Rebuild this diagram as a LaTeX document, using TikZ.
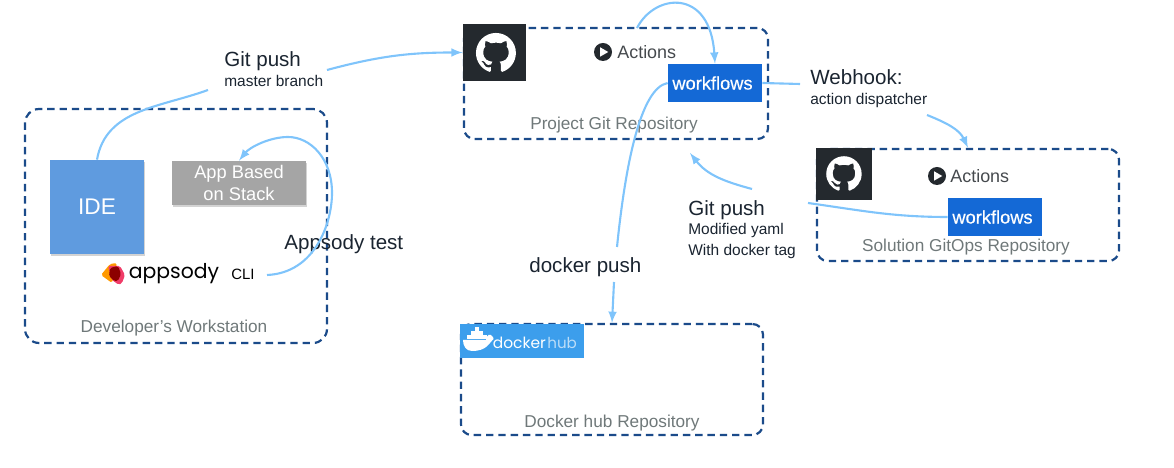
\documentclass[tikz,border=0pt]{standalone}
\usepackage{fontspec}
\setmainfont{Liberation Sans}
\newfontfamily\logofont{Poppins}
\newfontfamily\wffont[FakeBold=0.5]{Liberation Sans}
\usetikzlibrary{shadows,svg.path}
\definecolor{boxblue}{HTML}{1B4B8A}
\definecolor{flowblue}{HTML}{7FC4FB}
\definecolor{idecol}{HTML}{5F9BDF}
\definecolor{appcol}{HTML}{A5A5A5}
\definecolor{wfcol}{HTML}{1469D6}
\definecolor{ghcol}{HTML}{24292E}
\definecolor{hubcol}{HTML}{3C9EEC}
\definecolor{txtcol}{HTML}{1A2430}
\definecolor{repcol}{HTML}{6F7879}
\tikzset{
  repobox/.style={draw=boxblue,line width=1.25pt,dash pattern=on 4.2pt off 2.8pt,rounded corners=6pt,inner sep=0pt},
  flow/.style={draw=flowblue,line width=1.2pt,-latex},
  plainflow/.style={draw=flowblue,line width=1.2pt},
  biglabel/.style={anchor=west,inner sep=0pt,text=txtcol,font=\fontsize{11.7}{14}\selectfont},
  smalllabel/.style={anchor=west,inner sep=0pt,text=txtcol,font=\fontsize{8.8}{11}\selectfont},
  replabel/.style={inner sep=0pt,text=repcol,font=\fontsize{9.8}{12}\selectfont},
  actlabel/.style={anchor=west,inner sep=0pt,text=ghcol!85,font=\fontsize{10.2}{12}\selectfont},
  wfbox/.style={fill=wfcol,text=white,minimum width=1.88cm,minimum height=0.76cm,inner sep=0pt,font=\wffont\fontsize{10.4}{12}\selectfont},
  ghbox/.style={fill=ghcol,inner sep=0pt},
  softshadow/.style={drop shadow={shadow xshift=0.4pt,shadow yshift=-1.4pt,opacity=0.35}},
  ghlogo/.pic={
    \fill[white,shift={(-8bp,8bp)},yscale=-1] svg "M 8 0 C 3.58 0 0 3.58 0 8 c 0 3.54 2.29 6.53 5.47 7.59 c 0.4 0.07 0.55 -0.17 0.55 -0.38 c 0 -0.19 -0.01 -0.82 -0.01 -1.49 c -2.01 0.37 -2.53 -0.49 -2.69 -0.94 c -0.09 -0.23 -0.48 -0.94 -0.82 -1.13 c -0.28 -0.15 -0.68 -0.52 -0.01 -0.53 c 0.63 -0.01 1.08 0.58 1.23 0.82 c 0.72 1.21 1.87 0.87 2.33 0.66 c 0.07 -0.52 0.28 -0.87 0.51 -1.07 c -1.78 -0.2 -3.64 -0.89 -3.64 -3.95 c 0 -0.87 0.31 -1.59 0.82 -2.15 c -0.08 -0.2 -0.36 -1.02 0.08 -2.12 c 0 0 0.67 -0.21 2.2 0.82 c 0.64 -0.18 1.32 -0.27 2 -0.27 c 0.68 0 1.36 0.09 2 0.27 c 1.53 -1.04 2.2 -0.82 2.2 -0.82 c 0.44 1.1 0.16 1.92 0.08 2.12 c 0.51 0.56 0.82 1.27 0.82 2.15 c 0 3.07 -1.87 3.75 -3.65 3.95 c 0.29 0.25 0.54 0.73 0.54 1.48 c 0 1.07 -0.01 1.93 -0.01 2.2 c 0 0.21 0.15 0.46 0.55 0.38 C 13.71 14.53 16 11.53 16 8 c 0 -4.42 -3.58 -8 -8 -8 z";
  },
  playicon/.pic={
    \fill[ghcol] (0,0) circle (0.18);
    \fill[white] (-0.06,0.095) -- (0.105,0) -- (-0.06,-0.095) -- cycle;
  },
}
\begin{document}
\begin{tikzpicture}
\useasboundingbox (0,0) rectangle (23.48,9.36);

% repositories
\node[repobox,rounded corners=8pt,minimum width=6.04cm,minimum height=4.68cm] (repdev) at (3.52,4.84) {};
\node[repobox,minimum width=6.08cm,minimum height=2.22cm] (repprj) at (12.32,7.69) {};
\node[repobox,minimum width=6.04cm,minimum height=2.24cm] (repsol) at (19.36,5.26) {};
\node[repobox,minimum width=6.04cm,minimum height=2.22cm] (repdock) at (12.24,1.77) {};

\node[replabel] (lbldev) at (3.48,2.80) {Developer’s Workstation};
\node[replabel] (lblprj) at (12.28,6.86) {Project Git Repository};
\node[replabel] (lblsol) at (19.32,4.42) {Solution GitOps Repository};
\node[replabel] (lbldock) at (12.24,0.90) {Docker hub Repository};

% developer box
\node[fill=idecol,softshadow,text=white,minimum size=1.88cm,inner sep=0pt,font=\fontsize{12.9}{15}\selectfont] (ide) at (1.94,5.22) {IDE};
\node[fill=appcol,softshadow,text=white,minimum width=2.68cm,minimum height=0.88cm,inner sep=0pt,align=center,font=\fontsize{10.4}{12.6}\selectfont] (app) at (4.78,5.70) {App Based\\on Stack};

\fill[orange!80!yellow,rounded corners=1pt] (2.02,3.86) -- (2.20,4.08) -- (2.34,4.10) -- (2.24,3.70) -- cycle;
\fill[magenta!45!red!80!white,rounded corners=1pt] (2.50,3.86) -- (2.40,4.04) -- (2.16,4.04) -- (2.24,3.76) -- (2.38,3.66) -- (2.44,3.70) -- cycle;
\fill[red!55!black,rounded corners=1pt] (2.20,4.00) -- (2.36,4.04) -- (2.42,3.88) -- (2.36,3.74) -- (2.28,3.74) -- (2.18,3.84) -- cycle;
\node[inner sep=0pt,font=\logofont\fontsize{11.6}{14}\selectfont] (appsody) at (3.48,3.88) {appsody};
\node[inner sep=0pt,font=\fontsize{8.5}{10}\selectfont] (cli) at (4.86,3.88) {CLI};

% project box
\node[ghbox,minimum width=1.26cm,minimum height=1.14cm] (ghprj) at (9.89,8.31) {};
\pic[scale=1.42] (logoprj) at (9.92,8.30) {ghlogo};
\pic (playprj) at (12.06,8.32) {playicon};
\node[actlabel] (actprj) at (12.34,8.32) {Actions};
\node[wfbox] (wfprj) at (14.30,7.70) {\hspace*{-0.1cm}workflows};

% solution box
\node[ghbox,minimum width=1.12cm,minimum height=1.04cm] (ghsol) at (16.88,5.88) {};
\pic[scale=1.26] (logosol) at (ghsol) {ghlogo};
\pic (playsol) at (18.74,5.84) {playicon};
\node[actlabel] (actsol) at (19.00,5.84) {Actions};
\node[wfbox] (wfsol) at (19.90,5.02) {\hspace*{-0.1cm}workflows};

% docker logo
\node[fill=hubcol,minimum width=2.48cm,minimum height=0.68cm,inner sep=0pt] (hub) at (10.44,2.54) {};
\fill[white] (9.26,2.56) -- (9.72,2.56) .. controls (9.74,2.68) and (9.80,2.70) .. (9.86,2.62) -- (9.87,2.58) .. controls (9.78,2.50) and (9.74,2.34) .. (9.44,2.34) .. controls (9.32,2.34) and (9.26,2.44) .. (9.26,2.56);
\foreach \xa/\ya in {9.34/2.58,9.42/2.58,9.50/2.58,9.58/2.58,9.66/2.58,9.42/2.66,9.50/2.66,9.58/2.66,9.50/2.74}
  \fill[white] (\xa,\ya) rectangle ++(0.07,0.07);
\node[anchor=west,inner sep=0pt,text=white,font=\logofont\fontsize{8.8}{10}\selectfont] (dockertxt) at (9.85,2.50) {docker};
\node[anchor=west,inner sep=0pt,text=white!65!hubcol,font=\logofont\fontsize{8.6}{10}\selectfont] (hubtxt) at (10.94,2.50) {hub};

% labels
\node[biglabel] (gitpusha) at (4.48,8.14) {Git push};
\node[smalllabel] (master) at (4.48,7.74) {master branch};
\node[biglabel] (webhook) at (16.20,7.82) {Webhook:};
\node[smalllabel] (dispatch) at (16.20,7.34) {action dispatcher};
\node[biglabel] (gitpushb) at (13.76,5.16) {Git push};
\node[smalllabel] (yaml) at (13.76,4.74) {Modified yaml};
\node[smalllabel] (dtag) at (13.76,4.32) {With docker tag};
\node[biglabel] (dockpush) at (10.58,4.02) {docker push};
\node[biglabel] (apptest) at (5.68,4.48) {Appsody test};

% free ends of the flows
\coordinate (gpa) at (4.16,7.56);
\coordinate (gpb) at (6.54,7.96);
\coordinate (prjtop) at (12.74,8.80);
\coordinate (dpa) at (12.34,4.42);
\coordinate (dpb) at (12.28,3.72);
\coordinate (wha) at (16.00,7.68);
\coordinate (whb) at (18.54,7.06);
\coordinate (gpc) at (16.16,5.30);
\coordinate (gpd) at (15.04,5.58);
\coordinate (gpe) at (13.80,6.30);
\coordinate (clir) at (5.34,3.86);

% flows
\draw[plainflow] (ide.north) to[out=80,in=200] (gpa);
\draw[flow] (gpb) to[out=15,in=180] (ghprj.west);
\draw[flow] (prjtop) .. controls (13.10,9.50) and (14.20,9.60) .. (wfprj.north);
\draw[plainflow] (wfprj.west) .. controls (12.80,7.60) and (12.50,6.00) .. (dpa);
\draw[flow] (dpb) -- (repdock.north);
\draw[plainflow] (wfprj.east) -- (wha);
\draw[flow] (whb) to[out=-22,in=115] (repsol.north);
\draw[plainflow] (wfsol.west) to[out=180,in=-8] (gpc);
\draw[flow] (gpd) to[out=165,in=-52] (gpe);
\draw[flow] (clir) .. controls (6.30,3.90) and (6.64,4.90) .. (6.64,5.50) .. controls (6.64,6.20) and (6.20,6.62) .. (5.76,6.62) .. controls (5.40,6.62) and (5.00,6.42) .. (app.north);

\end{tikzpicture}
\end{document}
